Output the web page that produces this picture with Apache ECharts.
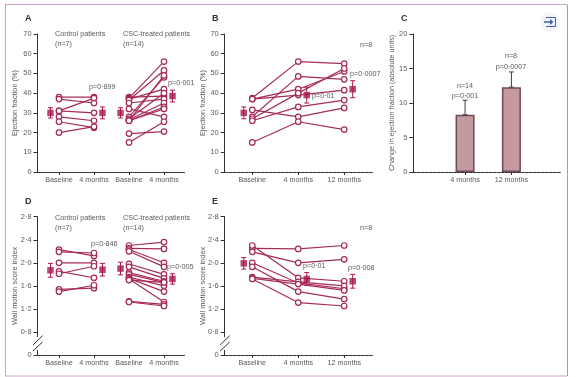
<!DOCTYPE html>
<html>
<head>
<meta charset="utf-8">
<style>html,body{margin:0;padding:0;background:#fff}#main{width:584px;height:377px}</style>
<script src="https://cdn.jsdelivr.net/npm/echarts@6/dist/echarts.min.js"></script>
</head>
<body>
<div id="main"></div>
<script>
// tick labels
var twoTimes = ['Baseline', '4 months', 'Baseline', '4 months'];
var threeTimes = ['Baseline', '4 months', '12 months'];
var barTimes = ['4 months', '12 months'];

// A: ejection fraction, patient values lined up by index
var aControlBase = [38, 37, 31, 31, 28, 25.5, 20];
var aControl4m = [38, 35, 37.5, 30, 26, 22.5, 23];
var aTreatedBase = [38, 37.5, 37, 36.5, 35, 32, 28, 27, 26.5, 26, 26, 26, 19.5, 15];
var aTreated4m = [38.5, 56, 42, 51.5, 37, 28, 48, 40, 35, 49, 33, 32, 20.5, 25.5];
var aMeans = [30, 30, 30, 38.5];
var aErrors = [2.6, 3, 2.6, 3];

// B
var bBase = [37.5, 37, 37, 31.5, 28, 27, 26, 15];
var b4m = [56, 42, 39, 28, 48.5, 40, 33, 25.5];
var b12m = [55, 51, 41.5, 32.5, 47, 52.5, 36.5, 21.5];
var bMeans = [30, 39, 42];
var bErrors = [3, 4, 4.3];

// C
var cValues = [8.3, 12.3];
var cErrors = [2.1, 2.2];

// D: wall motion score index
var dControlBase = [2.23, 2.19, 2.0, 1.85, 1.81, 1.54, 1.5];
var dControl4m = [2.12, 2.17, 2.0, 1.74, 1.94, 1.56, 1.61];
var dTreatedBase = [2.3, 2.25, 2.23, 2.2, 1.98, 1.93, 1.83, 1.8, 1.75, 1.73, 1.72, 1.7, 1.33, 1.32];
var dTreated4m = [2.36, 2.24, 2.0, 1.93, 1.8, 1.73, 1.68, 1.66, 1.6, 1.5, 1.32, 1.66, 1.28, 1.25];
var dMeans = [1.87, 1.88, 1.9, 1.72];
var dErrors = [0.12, 0.11, 0.11, 0.09];

// E
var eBase = [2.25, 2.19, 2.3, 2.0, 1.93, 1.75, 1.73, 1.72];
var e4m = [2.24, 2.0, 1.74, 1.65, 1.5, 1.67, 1.63, 1.31];
var e12m = [2.3, 2.06, 1.68, 1.55, 1.37, 1.6, 1.52, 1.25];
var eMeans = [1.99, 1.72, 1.68];
var eErrors = [0.1, 0.11, 0.12];

var chart = echarts.init(document.getElementById('main'), null, { renderer: 'canvas' });

var LINE = '#a62a58', MEAN = '#a8174f', TEXT = '#5a5a5a', AXIS = '#333333';
var FONT = '"Liberation Sans", sans-serif';
var grids = [], xAxes = [], yAxes = [], series = [], gfx = [];

function addAxes(o) {
  var idx = grids.length;
  grids.push({ left: o.left, top: o.top, width: o.width, height: o.height });
  var ticks = o.labels.map(function (l, i) { return i; });
  xAxes.push({
    gridIndex: idx, type: 'value', min: o.xMin, max: o.xMax, splitLine: { show: false },
    axisLine: { onZero: false, lineStyle: { color: AXIS, width: 1, type: [3, 1] } },
    axisTick: { customValues: ticks, length: 3, lineStyle: { color: AXIS } },
    axisLabel: {
      customValues: ticks, color: TEXT, fontSize: 7.2, fontFamily: FONT, margin: 5,
      formatter: function (v) { return o.labels[Math.round(v)]; }
    }
  });
  yAxes.push({
    gridIndex: idx, type: 'value', min: o.yMin, max: o.yMax, interval: o.yStep, splitLine: { show: false },
    name: o.yName, nameLocation: 'middle', nameGap: o.nameGap, nameMoveOverlap: false,
    nameTextStyle: { color: TEXT, fontSize: o.nameSize || 7.4, fontFamily: FONT },
    axisLine: { show: true, onZero: false, lineStyle: { color: AXIS, width: 1 } },
    axisTick: { show: true, length: 4, lineStyle: { color: AXIS } },
    axisLabel: { color: TEXT, fontSize: 7.4, fontFamily: FONT, margin: 6, formatter: o.yFormat }
  });
  return idx;
}

// one line per patient, start and later are index aligned
function addPatients(idx, times, startX) {
  times[0].forEach(function (v, p) {
    series.push({
      type: 'line', xAxisIndex: idx, yAxisIndex: idx, silent: true,
      data: times.map(function (t, i) { return [startX + i, t[p]]; }),
      symbol: 'circle', symbolSize: 5.5, showAllSymbols: true,
      lineStyle: { color: LINE, width: 1.2 },
      itemStyle: { color: '#fff', borderColor: LINE, borderWidth: 1.2 },
      z: 3
    });
  });
}

function errorSeries(idx, rows, color, lineWidth) {
  return {
    type: 'custom', xAxisIndex: idx, yAxisIndex: idx, silent: true, z: 4,
    data: rows, encode: { x: 0, y: [1, 2] },
    renderItem: function (params, api) {
      var a = api.coord([api.value(0), api.value(1)]);
      var b = api.coord([api.value(0), api.value(2)]);
      var st = { stroke: color, lineWidth: lineWidth, fill: null };
      return {
        type: 'group', children: [
          { type: 'line', shape: { x1: a[0], y1: a[1], x2: b[0], y2: b[1] }, style: st },
          { type: 'line', shape: { x1: a[0] - 2.5, y1: a[1], x2: a[0] + 2.5, y2: a[1] }, style: st },
          { type: 'line', shape: { x1: b[0] - 2.5, y1: b[1], x2: b[0] + 2.5, y2: b[1] }, style: st }
        ]
      };
    }
  };
}

// mean squares sit a few px to the side of the patient column
function addMeans(idx, means, errors, sides, pxPerCat) {
  var xs = means.map(function (m, i) { return i + sides[i] * 8.5 / pxPerCat; });
  series.push(errorSeries(idx, means.map(function (m, i) { return [xs[i], m - errors[i], m + errors[i]]; }), MEAN, 1));
  series.push({
    type: 'scatter', xAxisIndex: idx, yAxisIndex: idx, silent: true, z: 5,
    data: means.map(function (m, i) { return [xs[i], m]; }),
    symbol: 'rect', symbolSize: 6.5, itemStyle: { color: MEAN }
  });
}

function label(text, x, y, opt) {
  opt = opt || {};
  gfx.push({
    type: 'text', x: x, y: y, z: 20, silent: true,
    style: {
      text: text, fill: opt.color || TEXT, fontSize: opt.size || 7.2, fontFamily: FONT,
      fontWeight: opt.weight || 'normal', textAlign: opt.align || 'left', textVerticalAlign: 'middle'
    }
  });
}

function wallFormat(v) {
  if (Math.abs(v - 0.4) < 0.01) return '0';
  return v.toFixed(1).replace('.', '·');
}

// A
var gA = addAxes({ left: 37.5, top: 34, width: 147.5, height: 138, xMin: -0.614, xMax: 3.6, labels: twoTimes, yMin: 0, yMax: 70, yStep: 10, yName: 'Ejection fraction (%)', nameGap: 19 });
addPatients(gA, [aControlBase, aControl4m], 0);
addPatients(gA, [aTreatedBase, aTreated4m], 2);
addMeans(gA, aMeans, aErrors, [-1, 1, -1, 1], 35);

// B
var gB = addAxes({ left: 224.7, top: 34, width: 148, height: 138, xMin: -0.6, xMax: 2.62, labels: threeTimes, yMin: 0, yMax: 70, yStep: 10, yName: 'Ejection fraction (%)', nameGap: 18 });
addPatients(gB, [bBase, b4m, b12m], 0);
addMeans(gB, bMeans, bErrors, [-1, 1, 1], 46);

// C
var gC = addAxes({ left: 413.3, top: 34, width: 147.7, height: 138, xMin: -1.117, xMax: 2.07, labels: barTimes, yMin: 0, yMax: 20, yStep: 5, yName: 'Change in ejection fraction (absolute units)', nameGap: 18, nameSize: 7.2 });
series.push({
  type: 'bar', xAxisIndex: gC, yAxisIndex: gC, silent: true, barWidth: 19, z: 3,
  data: cValues.map(function (v, i) { return [i, v]; }),
  itemStyle: { color: '#c49a9e', borderColor: '#6e4a58', borderWidth: 1.5 }
});
series.push(errorSeries(gC, cValues.map(function (v, i) { return [i, v, v + cErrors[i]]; }), '#4a3a42', 1));

// D
var gD = addAxes({ left: 37.5, top: 216.7, width: 147.5, height: 138.3, xMin: -0.614, xMax: 3.6, labels: twoTimes, yMin: 0.4, yMax: 2.8, yStep: 0.4, yName: 'Wall motion score index', nameGap: 19, yFormat: wallFormat });
addPatients(gD, [dControlBase, dControl4m], 0);
addPatients(gD, [dTreatedBase, dTreated4m], 2);
addMeans(gD, dMeans, dErrors, [-1, 1, -1, 1], 35);

// E
var gE = addAxes({ left: 224.7, top: 216.7, width: 148, height: 138.3, xMin: -0.6, xMax: 2.62, labels: threeTimes, yMin: 0.4, yMax: 2.8, yStep: 0.4, yName: 'Wall motion score index', nameGap: 18, yFormat: wallFormat });
addPatients(gE, [eBase, e4m, e12m], 0);
addMeans(gE, eMeans, eErrors, [-1, 1, 1], 46);

// panel letters
label('A', 25, 19, { weight: 'bold', size: 9, color: '#333' });
label('B', 212, 19, { weight: 'bold', size: 9, color: '#333' });
label('C', 401, 19, { weight: 'bold', size: 9, color: '#333' });
label('D', 25, 202, { weight: 'bold', size: 9, color: '#333' });
label('E', 212, 202, { weight: 'bold', size: 9, color: '#333' });

// group captions and p values
label('Control patients', 55, 34); label('(n=7)', 55, 44);
label('CSC-treated patients', 123, 34); label('(n=14)', 123, 44);
label('p=0·899', 89, 87); label('p=0·001', 168, 83);
label('n=8', 360, 45); label('p=0·0007', 350, 74); label('p=0·01', 312, 96);
label('n=14', 465, 86, { align: 'center' }); label('p=0·001', 465, 96, { align: 'center' });
label('n=8', 511, 56, { align: 'center' }); label('p=0·0007', 511, 67, { align: 'center' });
label('Control patients', 55, 218); label('(n=7)', 55, 228);
label('CSC-treated patients', 123, 218); label('(n=14)', 123, 228);
label('p=0·846', 91, 244); label('p=0·005', 167, 267);
label('n=8', 360, 228); label('p=0·01', 303, 266); label('p=0·008', 348, 268);

// axis break marks on D and E
[37.5, 224.7].forEach(function (ax) {
  gfx.push({ type: 'rect', z: 15, silent: true, shape: { x: ax - 1.5, y: 337, width: 3, height: 13 }, style: { fill: '#fff' } });
  gfx.push({ type: 'line', z: 16, silent: true, shape: { x1: ax - 4.5, y1: 345, x2: ax + 5, y2: 335.7 }, style: { stroke: AXIS, lineWidth: 1 } });
  gfx.push({ type: 'line', z: 16, silent: true, shape: { x1: ax - 4.5, y1: 351, x2: ax + 5, y2: 342 }, style: { stroke: AXIS, lineWidth: 1 } });
});

// frame
gfx.push({ type: 'line', z: 1, silent: true, shape: { x1: 5, y1: 4.5, x2: 567, y2: 4.5 }, style: { stroke: '#c9a3c4', lineWidth: 1 } });
gfx.push({ type: 'line', z: 1, silent: true, shape: { x1: 5.5, y1: 4.5, x2: 5.5, y2: 376 }, style: { stroke: '#c9a3c4', lineWidth: 1 } });
gfx.push({ type: 'line', z: 1, silent: true, shape: { x1: 567.5, y1: 4.5, x2: 567.5, y2: 376 }, style: { stroke: '#b78fb8', lineWidth: 1 } });
gfx.push({ type: 'line', z: 1, silent: true, shape: { x1: 5, y1: 376, x2: 567, y2: 376 }, style: { stroke: '#c9a3c4', lineWidth: 1 } });

// figure viewer icon
gfx.push({ type: 'circle', z: 1, silent: true, shape: { cx: 550, cy: 22, r: 10 }, style: { fill: '#f3f5fa' } });
gfx.push({ type: 'polyline', z: 2, silent: true, shape: { points: [[546, 17.5], [555.5, 17.5], [555.5, 26.5], [546, 26.5]] }, style: { stroke: '#3d62a8', lineWidth: 1, fill: null } });
gfx.push({ type: 'line', z: 2, silent: true, shape: { x1: 544, y1: 22, x2: 551, y2: 22 }, style: { stroke: '#3d62a8', lineWidth: 1.5 } });
gfx.push({ type: 'polygon', z: 2, silent: true, shape: { points: [[550, 19], [553.5, 22], [550, 25]] }, style: { fill: '#3d62a8' } });

chart.setOption({
  backgroundColor: '#ffffff',
  animation: false,
  grid: grids,
  xAxis: xAxes,
  yAxis: yAxes,
  series: series,
  graphic: gfx
});
</script>
</body>
</html>
